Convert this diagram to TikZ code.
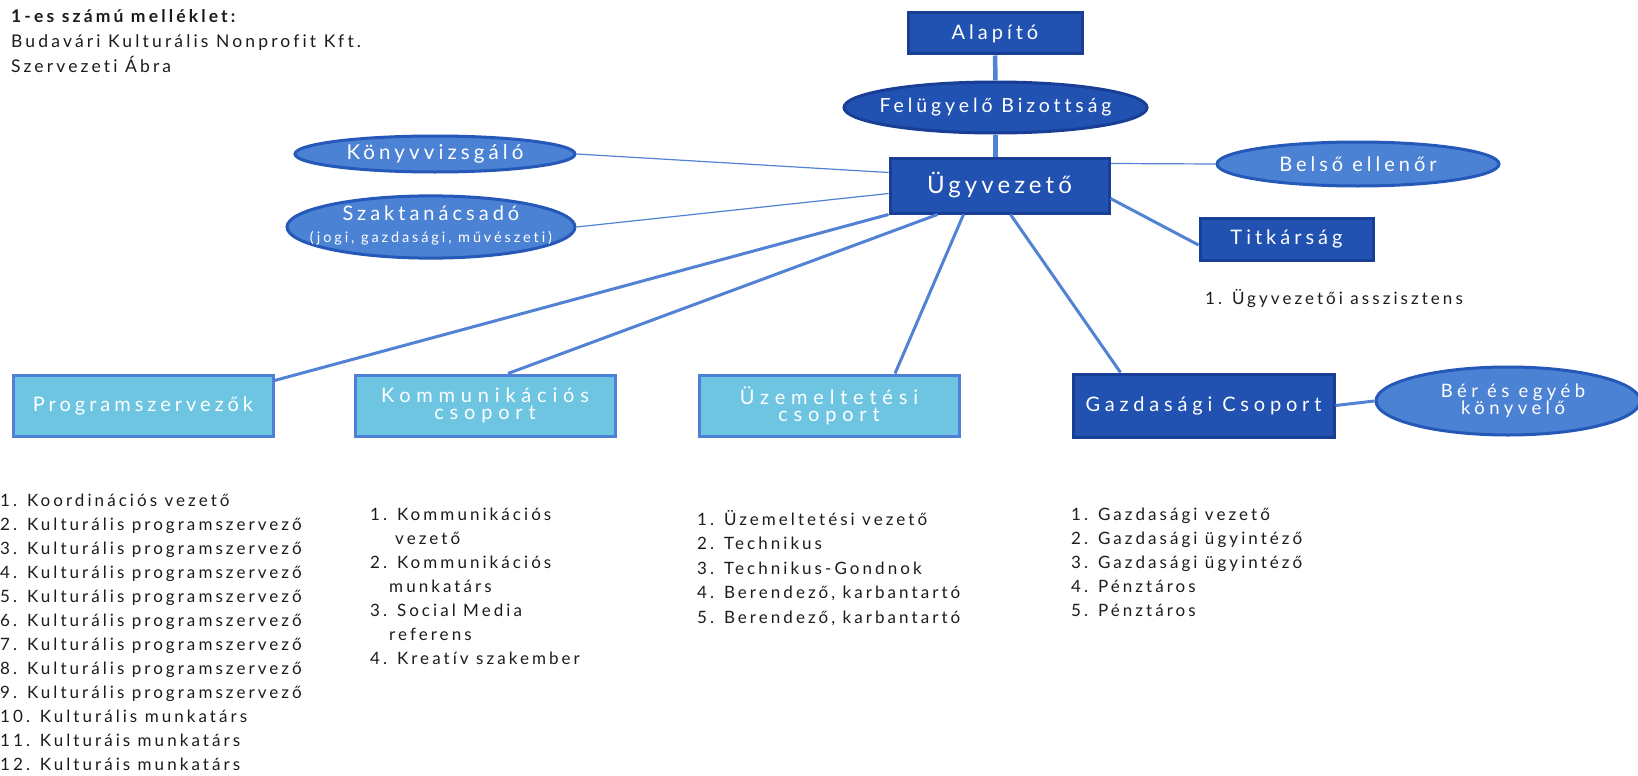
\documentclass[tikz,border=0pt]{standalone}
\usepackage{fontspec}
\setmainfont{Lato}[LetterSpace=18,Ligatures=CommonOff]
\newfontfamily\boxfont{Lato}[LetterSpace=20,Ligatures=CommonOff]
\newfontfamily\boxwide{Lato}[LetterSpace=29,Ligatures=CommonOff]
\newfontfamily\boxmid{Lato}[LetterSpace=24,Ligatures=CommonOff]
\newfontfamily\boxnarrow{Lato}[LetterSpace=17,Ligatures=CommonOff]
\usetikzlibrary{shapes.geometric,calc}
\definecolor{darkfill}{RGB}{33,82,178}
\definecolor{darkedge}{RGB}{24,62,150}
\definecolor{midfill}{RGB}{76,130,212}
\definecolor{midedge}{RGB}{38,88,185}
\definecolor{lightfill}{RGB}{110,197,226}
\definecolor{lightedge}{RGB}{78,128,214}
\definecolor{linkc}{RGB}{82,130,212}
\definecolor{txt}{RGB}{28,28,28}
\newcommand\zw[1]{\makebox[0pt][c]{#1}}
\newcommand\lst[1]{\begin{tabular}[t]{@{}l@{}}#1\end{tabular}}
\begin{document}
\begin{tikzpicture}[x=1pt,y=-1pt,
  darkbox/.style={rectangle,draw=darkedge,fill=darkfill,line width=3pt,text=white,inner sep=0pt,align=center},
  lightbox/.style={rectangle,draw=lightedge,fill=lightfill,line width=3pt,text=white,inner sep=0pt,align=center,minimum width=260pt,minimum height=61pt,font=\boxwide\fontsize{20}{17}\selectfont},
  darkell/.style={ellipse,draw=darkedge,fill=darkfill,line width=3pt,text=white,inner sep=0pt},
  midell/.style={ellipse,draw=midedge,fill=midfill,line width=3pt,text=white,inner sep=0pt},
  link/.style={draw=linkc,line width=3pt},
  thinlink/.style={draw=linkc,line width=1.2pt},
  listtxt/.style={anchor=base west,text=txt,inner sep=0pt,font=\fontsize{17}{24}\selectfont}
]
\fill[white] (0,0) rectangle (1638,776);
\useasboundingbox (0,0) rectangle (1638,776);

% title
\node[anchor=base west,text=txt,inner sep=0pt,font=\fontsize{17.5}{25}\selectfont] (title) at (11,23)
  {\lst{\textbf{1-es számú melléklet:}\\Budavári Kulturális Nonprofit Kft.\\Szervezeti Ábra}};

% top chain
\node[darkbox,minimum width=174pt,minimum height=41pt,font=\boxfont\fontsize{20}{22}\selectfont] (alap) at (995,33.5) {Alapító};
\node[darkell,minimum width=303pt,minimum height=51pt,font=\boxfont\fontsize{19.5}{20}\selectfont] (felu) at (995.5,107.5) {\zw{Felügyelő Bizottság}};
\node[darkbox,minimum width=219pt,minimum height=55pt,font=\boxnarrow\fontsize{24}{26}\selectfont] (ugy) at (999.5,185.5) {Ügyvezető};

% side ellipses
\node[midell,minimum width=280pt,minimum height=36pt,font=\boxfont\fontsize{20.5}{20}\selectfont] (konyv) at (435,154) {\zw{Könyvvizsgáló}};
\node[midell,minimum width=288pt,minimum height=60pt] (szak) at (431,227)
  {\zw{\fontsize{18}{22}\selectfont\begin{tabular}{@{}c@{}}{\boxfont\fontsize{20}{22}\selectfont Szaktanácsadó}\\{\boxfont\fontsize{14.5}{22}\selectfont (jogi, gazdasági, művészeti)}\end{tabular}}};
\node[midell,minimum width=282pt,minimum height=44pt,font=\boxfont\fontsize{20}{20}\selectfont] (belso) at (1358,164) {\zw{Belső ellenőr}};
\node[darkbox,minimum width=173pt,minimum height=42pt,font=\boxfont\fontsize{20}{20}\selectfont] (titk) at (1286.5,239) {Titkárság};
\node[listtxt] (titklist) at (1205,304) {1. Ügyvezetői asszisztens};

% groups
\node[lightbox,font=\boxfont\fontsize{20}{17}\selectfont] (prog) at (143,405.5) {Programszervezők};
\node[lightbox] (kom) at (485,405.5) {Kommunikációs\\csoport};
\node[lightbox] (uzem) at (829,405.5) {Üzemeltetési\\csoport};
\node[darkbox,minimum width=261pt,minimum height=63pt,font=\boxmid\fontsize{20}{20}\selectfont] (gaz) at (1203.5,405.5) {Gazdasági Csoport};
\node[midell,minimum width=264pt,minimum height=68pt] (ber) at (1508,401)
  {\zw{\hspace*{10pt}\fontsize{18.5}{12.5}\selectfont\begin{tabular}{@{}c@{}}{\boxmid\fontsize{18.5}{12.5}\selectfont Bér és egyéb}\\{\boxmid\fontsize{18.5}{12.5}\selectfont könyvelő}\end{tabular}}};

% lists
\node[listtxt] (proglist) at (0,506) {\lst{1. Koordinációs vezető\\2. Kulturális programszervező\\3. Kulturális programszervező\\4. Kulturális programszervező\\5. Kulturális programszervező\\6. Kulturális programszervező\\7. Kulturális programszervező\\8. Kulturális programszervező\\9. Kulturális programszervező\\10. Kulturális munkatárs\\11. Kulturáis munkatárs\\12. Kulturáis munkatárs}};
\node[listtxt] (komlist) at (370,520) {\lst{1. Kommunikációs\\\hspace*{25pt}vezető\\2. Kommunikációs\\\hspace*{19pt}munkatárs\\3. Social Media\\\hspace*{19pt}referens\\4. Kreatív szakember}};
\node[listtxt,font=\fontsize{17}{24.6}\selectfont] (uzemlist) at (697,525) {\lst{1. Üzemeltetési vezető\\2. Technikus\\3. Technikus-Gondnok\\4. Berendező, karbantartó\\5. Berendező, karbantartó}};
\node[listtxt] (gazlist) at (1071,520) {\lst{1. Gazdasági vezető\\2. Gazdasági ügyintéző\\3. Gazdasági ügyintéző\\4. Pénztáros\\5. Pénztáros}};

% connectors
\draw[link,line width=4.5pt] (alap.south) -- (felu.north);
\draw[link,line width=4.5pt] (felu.south) -- (felu.south |- ugy.north);
\draw[thinlink] (konyv.east) -- ([yshift=13pt]ugy.west);
\draw[thinlink] (szak.east) -- ([yshift=-8pt]ugy.west);
\draw[thinlink] ([yshift=22pt]ugy.east) -- (belso.west);
\draw[link] ([yshift=-13pt]ugy.east) -- ([yshift=-6pt]titk.west);
\draw[link] (ugy.south west) -- ([yshift=-7pt]prog.north east);
\draw[link] ([xshift=-62pt]ugy.south) -- ([xshift=23pt]kom.north);
\draw[link] ([xshift=-36pt]ugy.south) -- ([xshift=66pt]uzem.north);
\draw[link] ([xshift=11pt]ugy.south) -- ([xshift=-83pt]gaz.north);
\draw[link] (gaz.east) -- (ber.west);
\end{tikzpicture}
\end{document}
